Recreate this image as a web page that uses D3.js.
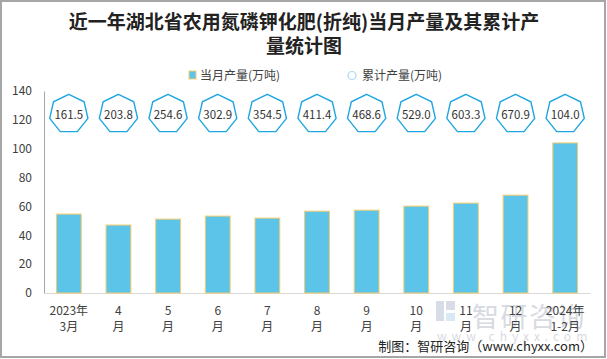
<!DOCTYPE html>
<html><head><meta charset="utf-8">
<script src="https://cdn.jsdelivr.net/npm/d3@7"></script>
<style>
html,body{margin:0;padding:0;background:#fff;}
svg{display:block;font-family:"Noto Sans CJK SC","Noto Sans",sans-serif;}
</style></head>
<body>
<svg id="chart" width="607" height="359"></svg>
<script>
const categories = ["2023年|3月","4|月","5|月","6|月","7|月","8|月","9|月","10|月","11|月","12|月","2024年|1-2月"];
const monthly = [54.7,47.1,51.2,53.3,51.9,56.7,57.4,60.2,62.3,67.8,104.0];
const cumulative = [161.5,203.8,254.6,302.9,354.5,411.4,468.6,529.0,603.3,670.9,104.0];
const yTicks = [0,20,40,60,80,100,120,140];
const titleLines = ["近一年湖北省农用氮磷钾化肥(折纯)当月产量及其累计产","量统计图"];
const legendLabels = ["当月产量(万吨)","累计产量(万吨)"];

const svg = d3.select("#chart");
const W = 607, H = 359;

// frame
svg.append("rect").attr("x",1).attr("y",1).attr("width",W-3).attr("height",H-3)
  .attr("fill","#fff").attr("stroke","#a6a6a6").attr("stroke-width",2);

// title
svg.append("g").selectAll("text").data(titleLines).join("text")
  .attr("x",304).attr("y",(d,i)=>29+i*24)
  .attr("text-anchor","middle").attr("font-size",19).attr("font-weight","bold")
  .attr("fill","#222").text(d=>d);

const x = d3.scaleBand().domain(categories).range([44,590]).paddingInner(0.5).paddingOuter(0.25);
const y = d3.scaleLinear().domain([0,140]).range([293,91]);

// watermark (drawn beneath the chart marks)
const wm = svg.append("g").attr("opacity",0.55);
wm.append("rect").attr("x",436).attr("y",301).attr("width",8).attr("height",20).attr("fill","#b8c0d4");
wm.append("rect").attr("x",446).attr("y",301).attr("width",9).attr("height",9).attr("fill","#b8c0d4");
wm.append("rect").attr("x",446).attr("y",313).attr("width",9).attr("height",8).attr("fill","#b8d8ee");
wm.append("text").attr("x",472).attr("y",327).attr("font-size",27).attr("fill","#b8bcc8")
  .attr("letter-spacing",1.5).text("智研咨询");
wm.append("text").attr("x",437).attr("y",341).attr("font-size",12).attr("fill","#b8bcc8")
  .attr("letter-spacing",5).text("www.chyxx.com");

// legend
const lg = svg.append("g");
lg.append("rect").attr("x",189).attr("y",71).attr("width",7).attr("height",8)
  .attr("fill","#5bc4e8").attr("stroke","#f5cd6e").attr("stroke-width",1);
lg.append("text").attr("x",200).attr("y",80).attr("font-size",12).attr("fill","#404040").text(legendLabels[0]);
lg.append("circle").attr("cx",352).attr("cy",75.5).attr("r",4)
  .attr("fill","#fff").attr("stroke","#a9daf2").attr("stroke-width",1.2);
lg.append("text").attr("x",362).attr("y",80).attr("font-size",12).attr("fill","#404040").text(legendLabels[1]);

// y axis
const yAxis = d3.axisLeft(y).tickValues(yTicks).tickSize(0).tickPadding(12);
const gy = svg.append("g").attr("transform","translate(44,0)").call(yAxis);
gy.select(".domain").attr("stroke","#a6a6a6");
gy.selectAll("text").attr("font-size",12).attr("fill","#404040")
  .attr("font-family","'Noto Sans CJK SC',sans-serif");

// x axis line
const xAxis = d3.axisBottom(x).tickSize(0).tickFormat("");
const gx = svg.append("g").attr("transform","translate(0,293)").call(xAxis);
gx.select(".domain").attr("stroke","#d9d9d9");

// x labels
const xl = svg.append("g").selectAll("text").data(categories).join("text")
  .attr("x",d=>x(d)+x.bandwidth()/2).attr("text-anchor","middle")
  .attr("font-size",12).attr("fill","#404040");
xl.each(function(d){
  const parts = d.split("|");
  const t = d3.select(this);
  parts.forEach((p,i)=>{
    t.append("tspan").attr("x",x(d)+x.bandwidth()/2).attr("y",315+i*16).text(p);
  });
});

// bars
svg.append("g").selectAll("rect").data(monthly).join("rect")
  .attr("x",(d,i)=>x(categories[i])).attr("width",x.bandwidth())
  .attr("y",d=>y(d)).attr("height",d=>y(0)-y(d))
  .attr("fill","#5bc4e8").attr("stroke","#f5cd6e").attr("stroke-width",1);

// heptagon labels
const R = 19.6, cy = 114;
const hept = d3.range(7).map(k=>{
  const a = -Math.PI/2 + k*2*Math.PI/7;
  return [R*Math.cos(a), R*Math.sin(a)];
});
const hg = svg.append("g").selectAll("g").data(cumulative).join("g")
  .attr("transform",(d,i)=>`translate(${x(categories[i])+x.bandwidth()/2},${cy})`);
hg.append("polygon").attr("points",hept.map(p=>p.join(",")).join(" "))
  .attr("fill","#fff").attr("stroke","#1fa6e0").attr("stroke-width",1.4);
hg.append("text").attr("text-anchor","middle").attr("y",4.5).attr("font-size",11.5)
  .attr("fill","#333").text(d=>d.toFixed(1));

// footer
svg.append("text").attr("x",593).attr("y",351).attr("text-anchor","end")
  .attr("font-size",13).attr("fill","#222").text("制图：智研咨询（www.chyxx.com）");
</script>
</body></html>
